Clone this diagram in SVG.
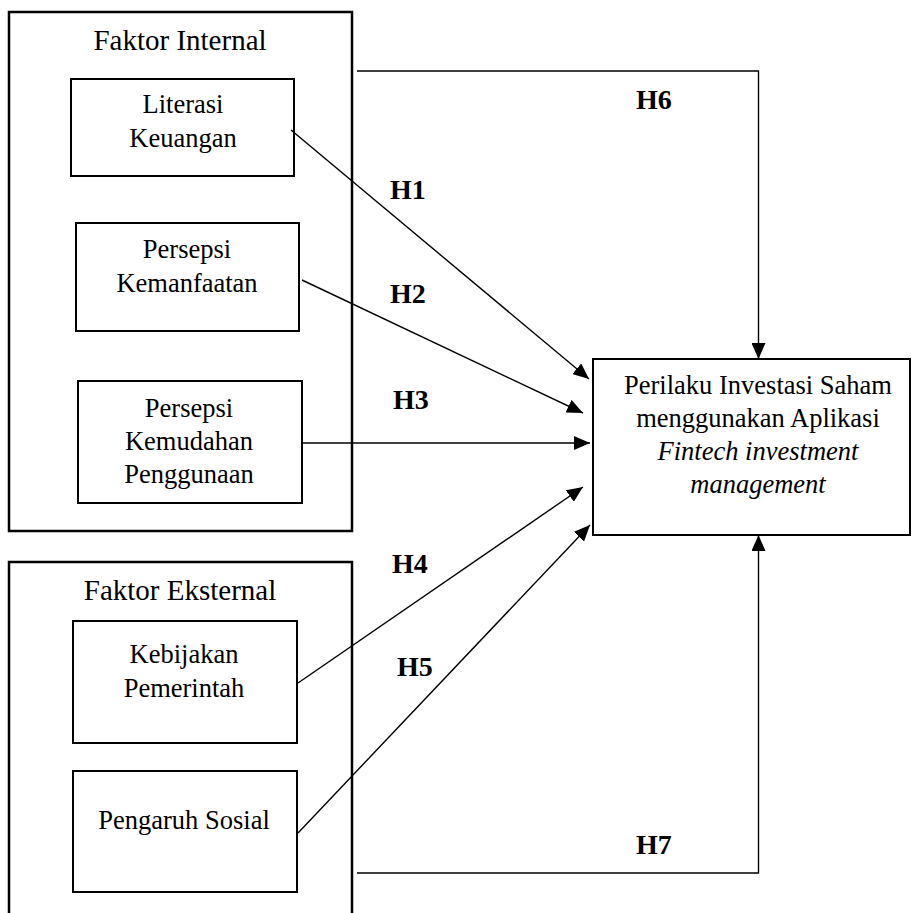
<svg xmlns="http://www.w3.org/2000/svg" width="913" height="913" viewBox="0 0 913 913">
<style>
.box{fill:none;stroke:#000;stroke-width:2.5}
.node{fill:#fff;stroke:#000;stroke-width:2}
.t{font-family:"Liberation Serif","Times New Roman",serif;font-size:26.5px;fill:#000;text-anchor:middle}
.hd{font-size:29px}
.it{font-style:italic}
.h{font-family:"Liberation Serif","Times New Roman",serif;font-size:28px;font-weight:bold;fill:#000}
.c{fill:none;stroke:#000;stroke-width:1.4}
</style>
<defs>
<marker id="ah" viewBox="0 0 16 14" refX="16" refY="7" markerWidth="16" markerHeight="14" markerUnits="userSpaceOnUse" orient="auto">
<path d="M0,0 L16,7 L0,14 Z" fill="#000"/>
</marker>
</defs>
<g id="faktor-internal">
<rect class="box" x="9" y="12" width="343" height="519"/>
<text class="t hd" x="180" y="50">Faktor Internal</text>
</g>
<g id="literasi-keuangan">
<rect class="node" x="71" y="79" width="223" height="97"/>
<text class="t" x="183" y="113">Literasi</text>
<text class="t" x="183" y="147">Keuangan</text>
</g>
<g id="persepsi-kemanfaatan">
<rect class="node" x="76" y="223" width="223" height="108"/>
<text class="t" x="187" y="258">Persepsi</text>
<text class="t" x="187" y="292">Kemanfaatan</text>
</g>
<g id="persepsi-kemudahan">
<rect class="node" x="78" y="381" width="224" height="122"/>
<text class="t" x="189" y="417">Persepsi</text>
<text class="t" x="189" y="450">Kemudahan</text>
<text class="t" x="189" y="483">Penggunaan</text>
</g>
<g id="faktor-eksternal">
<path class="box" d="M9,920 V562 H352 V920"/>
<text class="t hd" x="180" y="600">Faktor Eksternal</text>
</g>
<g id="kebijakan-pemerintah">
<rect class="node" x="73" y="621" width="224" height="122"/>
<text class="t" x="184" y="663">Kebijakan</text>
<text class="t" x="184" y="697">Pemerintah</text>
</g>
<g id="pengaruh-sosial">
<rect class="node" x="73" y="771" width="224" height="121"/>
<text class="t" x="184" y="829">Pengaruh Sosial</text>
</g>
<g id="perilaku-investasi">
<rect class="node" x="593" y="359" width="317" height="176"/>
<text class="t" x="758" y="394">Perilaku Investasi Saham</text>
<text class="t" x="758" y="427">menggunakan Aplikasi</text>
<text class="t it" x="758" y="460">Fintech investment</text>
<text class="t it" x="758" y="493">management</text>
</g>
<g id="connectors">
<line class="c" x1="291" y1="130" x2="589" y2="379" marker-end="url(#ah)"/>
<line class="c" x1="302" y1="280" x2="583" y2="413" marker-end="url(#ah)"/>
<line class="c" x1="302" y1="443" x2="590" y2="443" marker-end="url(#ah)"/>
<line class="c" x1="298" y1="683" x2="583" y2="487" marker-end="url(#ah)"/>
<line class="c" x1="298" y1="833" x2="590" y2="525" marker-end="url(#ah)"/>
<path class="c" d="M357,71 H758.5 V359" marker-end="url(#ah)"/>
<path class="c" d="M357,873 H758.5 V535" marker-end="url(#ah)"/>
</g>
<g id="labels">
<text class="h" x="390" y="199">H1</text>
<text class="h" x="390" y="303">H2</text>
<text class="h" x="393" y="409">H3</text>
<text class="h" x="392" y="573">H4</text>
<text class="h" x="397" y="676">H5</text>
<text class="h" x="636" y="109">H6</text>
<text class="h" x="636" y="854">H7</text>
</g>
</svg>
